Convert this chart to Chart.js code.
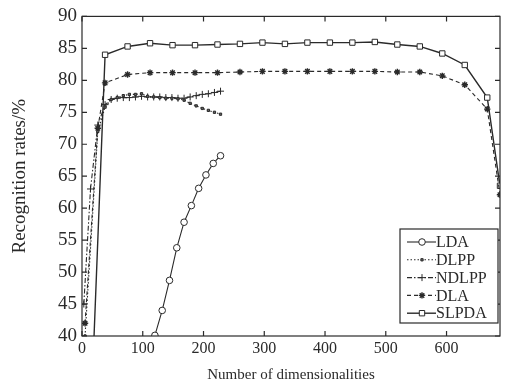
<!DOCTYPE html>
<html>
<head>
<meta charset="utf-8">
<script src="https://cdn.jsdelivr.net/npm/chart.js@4/dist/chart.umd.min.js"></script>
<style>
  html, body { margin: 0; padding: 0; background: #fff; }
  #c { display: block; }
</style>
</head>
<body>
<canvas id="c" width="512" height="387"></canvas>
<script>
// Recognition rate vs. number of dimensionalities.
const LDA_X = [120, 132, 144, 156, 168, 180, 192, 204, 216, 228];
const LDA_Y = [40.1, 44.0, 48.7, 53.8, 57.8, 60.4, 63.1, 65.2, 67.0, 68.2];

const DLPP_X = [5, 26, 38, 48, 58, 68, 78, 88, 98, 108, 118, 128, 138, 148, 158, 168, 178, 188, 198, 208, 218, 228];
const DLPP_Y = [40.0, 72.0, 75.8, 77.0, 77.3, 77.6, 77.8, 77.8, 77.9, 77.5, 77.4, 77.3, 77.2, 77.2, 77.1, 76.9, 76.4, 76.0, 75.6, 75.3, 75.0, 74.7];

const NDLPP_X = [3, 14, 26, 38, 48, 58, 68, 78, 88, 98, 108, 118, 128, 138, 148, 158, 168, 178, 188, 198, 208, 218, 228];
const NDLPP_Y = [45.0, 63.0, 73.0, 76.2, 77.0, 77.2, 77.3, 77.3, 77.4, 77.5, 77.4, 77.4, 77.4, 77.3, 77.3, 77.2, 77.2, 77.4, 77.6, 77.8, 77.9, 78.1, 78.3];

const DLA_X = [5, 26, 38, 75, 112, 149, 186, 223, 260, 297, 334, 371, 408, 445, 482, 519, 556, 593, 630, 667, 688];
const DLA_Y = [42.0, 72.5, 79.6, 80.9, 81.2, 81.2, 81.2, 81.2, 81.3, 81.4, 81.4, 81.4, 81.4, 81.4, 81.4, 81.3, 81.3, 80.7, 79.3, 75.5, 62.1];

const SLPDA_X = [19, 38, 75, 112, 149, 186, 223, 260, 297, 334, 371, 408, 445, 482, 519, 556, 593, 630, 667, 688];
const SLPDA_Y = [38.0, 84.0, 85.3, 85.8, 85.5, 85.5, 85.6, 85.7, 85.9, 85.7, 85.9, 85.9, 85.9, 86.0, 85.6, 85.3, 84.2, 82.4, 77.3, 63.5];

const X_MIN = 0, X_MAX = 688, X_STEP = 100;
const Y_MIN = 40, Y_MAX = 90, Y_STEP = 5;

const INK = '#2a2a2a';
const SERIF = "'Liberation Serif', 'DejaVu Serif', serif";

function pts(xs, ys) {
  return xs.map((x, i) => ({ x, y: ys[i] }));
}

function series(label, xs, ys, style) {
  return Object.assign(
    {
      label,
      data: pts(xs, ys),
      borderColor: INK,
      backgroundColor: '#fff',
      pointBorderColor: INK,
      borderWidth: 1.1,
      pointBorderWidth: 1,
      tension: 0,
    },
    style
  );
}

const datasets = [
  series('LDA', LDA_X, LDA_Y, { pointStyle: 'circle', pointRadius: 3.3 }),
  series('DLPP', DLPP_X, DLPP_Y, { borderDash: [1.5, 2], pointStyle: 'rect', pointRadius: 1.6, pointBackgroundColor: '#666' }),
  series('NDLPP', NDLPP_X, NDLPP_Y, { borderDash: [5, 2, 1.5, 2], pointStyle: 'cross', pointRadius: 3.5 }),
  series('DLA', DLA_X, DLA_Y, { borderDash: [4, 3], pointStyle: 'star', pointRadius: 3.2, pointBorderWidth: 1.4 }),
  series('SLPDA', SLPDA_X, SLPDA_Y, { borderWidth: 1.4, pointStyle: 'rect', pointRadius: 3.8 }),
];

// Box round the plot with inward ticks on all four sides, as in the figure.
const frame = {
  id: 'frame',
  afterDatasetsDraw(chart) {
    const { ctx, chartArea: a, scales } = chart;
    const len = 5;
    ctx.save();
    ctx.strokeStyle = INK;
    ctx.lineWidth = 1.2;
    ctx.setLineDash([]);
    ctx.strokeRect(a.left, a.top, a.right - a.left, a.bottom - a.top);
    ctx.beginPath();
    scales.x.ticks.forEach((t) => {
      const px = scales.x.getPixelForValue(t.value);
      ctx.moveTo(px, a.bottom); ctx.lineTo(px, a.bottom - len);
      ctx.moveTo(px, a.top); ctx.lineTo(px, a.top + len);
    });
    scales.y.ticks.forEach((t) => {
      const py = scales.y.getPixelForValue(t.value);
      ctx.moveTo(a.left, py); ctx.lineTo(a.left + len, py);
      ctx.moveTo(a.right, py); ctx.lineTo(a.right - len, py);
    });
    ctx.stroke();
    ctx.restore();
  },
};

// Legend box in the lower right corner of the plot, line sample + marker.
const boxLegend = {
  id: 'boxLegend',
  afterDraw(chart) {
    const { ctx, chartArea: a } = chart;
    const w = 98, h = 94;
    const x0 = a.right - w - 2, y0 = a.bottom - h - 13;
    ctx.save();
    ctx.fillStyle = '#fff';
    ctx.fillRect(x0, y0, w, h);
    ctx.strokeStyle = INK;
    ctx.lineWidth = 1.2;
    ctx.strokeRect(x0, y0, w, h);
    ctx.font = '16px ' + SERIF;
    ctx.textBaseline = 'middle';
    chart.data.datasets.forEach((ds, i) => {
      const y = y0 + 13 + i * 17.8;
      ctx.strokeStyle = INK;
      ctx.lineWidth = ds.borderWidth;
      ctx.setLineDash(ds.borderDash || []);
      ctx.beginPath();
      ctx.moveTo(x0 + 7, y);
      ctx.lineTo(x0 + 36, y);
      ctx.stroke();
      ctx.setLineDash([]);
      ctx.fillStyle = ds.pointBackgroundColor || ds.backgroundColor;
      ctx.lineWidth = ds.pointBorderWidth;
      Chart.helpers.drawPoint(ctx, { pointStyle: ds.pointStyle, radius: ds.pointRadius, borderWidth: ds.pointBorderWidth, rotation: 0 }, x0 + 22, y);
      ctx.fillStyle = INK;
      ctx.fillText(ds.label, x0 + 36, y + 1);
    });
    ctx.restore();
  },
};

new Chart(document.getElementById('c').getContext('2d'), {
  type: 'line',
  data: { datasets },
  plugins: [frame, boxLegend],
  options: {
    responsive: false,
    animation: false,
    devicePixelRatio: 1,
    layout: { padding: { top: 13, right: 12, left: 0, bottom: 0 } },
    plugins: { legend: { display: false }, tooltip: { enabled: false } },
    scales: {
      x: {
        type: 'linear',
        min: X_MIN,
        max: X_MAX,
        grid: { display: false, drawTicks: false },
        border: { display: false },
        ticks: { stepSize: X_STEP, includeBounds: false, color: INK, padding: 3, maxRotation: 0, font: { family: SERIF, size: 16 } },
        title: { display: true, text: 'Number of dimensionalities', color: INK, padding: { top: 0, bottom: 3 }, font: { family: SERIF, size: 15 } },
        afterFit: (s) => { s.height = 51; },
      },
      y: {
        min: Y_MIN,
        max: Y_MAX,
        grid: { display: false, drawTicks: false },
        border: { display: false },
        ticks: { stepSize: Y_STEP, color: INK, padding: 5, font: { family: SERIF, size: 19 } },
        title: { display: true, text: 'Recognition rates/%', color: INK, padding: { top: 9, bottom: 0 }, font: { family: SERIF, size: 19 } },
        afterFit: (s) => { s.width = 82; },
      },
    },
  },
});
</script>
</body>
</html>
